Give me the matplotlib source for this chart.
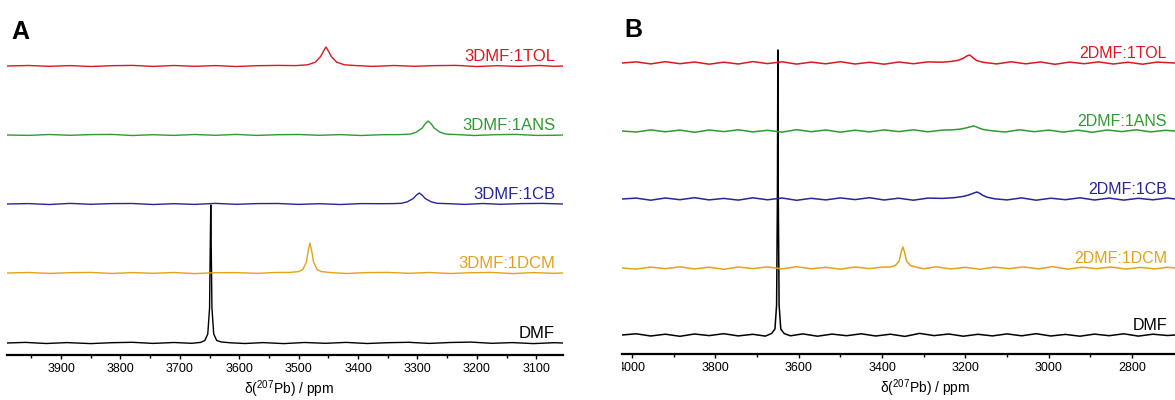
import matplotlib
matplotlib.use('Agg')
import matplotlib.pyplot as plt
import matplotlib.transforms as mtransforms

plt.rcParams['font.family'] = ['Liberation Sans', 'DejaVu Sans']
plt.rcParams['mathtext.fontset'] = 'custom'
plt.rcParams['mathtext.rm'] = 'Liberation Sans'

# ---- Panel A data (ppm, intensity) ----
a_labels = ['DMF', '3DMF:1DCM', '3DMF:1CB', '3DMF:1ANS', '3DMF:1TOL']

a_dmf_ppm = [3991, 3960, 3925, 3890, 3850, 3815, 3780, 3745, 3710, 3680,
             3665, 3658, 3653, 3650, 3649, 3648, 3647, 3646, 3643, 3638,
             3630, 3615, 3590, 3560, 3525, 3490, 3455, 3420, 3385, 3350,
             3315, 3280, 3245, 3210, 3175, 3140, 3105, 3070, 3055]
a_dmf_int = [0.0, 0.6, -0.5, 0.4, -0.6, 0.3, 0.7, -0.4, 0.5, -0.3,
             0.6, 2.5, 9, 35, 88, 138, 88, 35, 9, 2.5,
             1.0, 0.2, -0.5, 0.4, -0.6, 0.5, -0.3, 0.6, -0.5, 0.3,
             0.7, -0.4, 0.5, 0.9, -0.3, 0.4, -0.6, 0.3, 0.0]

a_dcm_ppm = [3991, 3955, 3920, 3885, 3850, 3815, 3780, 3745, 3710, 3675,
             3640, 3605, 3570, 3540, 3515, 3500, 3493, 3487, 3484, 3481,
             3478, 3475, 3469, 3462, 3445, 3420, 3385, 3350, 3315, 3280,
             3245, 3210, 3175, 3140, 3105, 3070, 3055]
a_dcm_int = [0.0, 0.5, -0.4, 0.3, 0.6, -0.5, 0.4, -0.3, 0.5, -0.6,
             0.3, 0.4, -0.4, 0.5, 0.6, 1.4, 3.5, 11, 22, 30,
             22, 11, 3.5, 1.4, 0.4, -0.5, 0.4, 0.6, -0.3, 0.5,
             -0.5, 0.3, 0.6, -0.6, 0.4, -0.3, 0.0]

a_cb_ppm = [3991, 3955, 3920, 3885, 3850, 3815, 3780, 3745, 3710, 3675,
            3640, 3605, 3570, 3535, 3500, 3465, 3430, 3395, 3360, 3340,
            3327, 3317, 3307, 3302, 3297, 3292, 3287, 3277, 3267, 3247,
            3220, 3190, 3160, 3125, 3090, 3055]
a_cb_int = [0.0, 0.4, -0.5, 0.6, -0.3, 0.4, 0.5, -0.5, 0.3, -0.4,
            0.6, -0.3, 0.4, 0.5, -0.4, 0.3, -0.5, 0.4, 0.3, 0.4,
            0.7, 2.2, 5.5, 8.8, 11, 8.8, 5.5, 2.2, 0.7, 0.3,
            -0.4, 0.5, -0.3, 0.4, 0.6, 0.0]

a_ans_ppm = [3991, 3955, 3920, 3885, 3850, 3815, 3780, 3745, 3710, 3675,
             3640, 3605, 3570, 3535, 3500, 3465, 3430, 3395, 3360, 3330,
             3312, 3302, 3292, 3287, 3282, 3277, 3272, 3262, 3252, 3232,
             3205, 3170, 3135, 3100, 3070, 3055]
a_ans_int = [0.0, -0.4, 0.5, -0.3, 0.4, 0.6, -0.5, 0.3, -0.4, 0.5,
             -0.3, 0.6, -0.4, 0.3, 0.5, -0.3, 0.4, -0.5, 0.3, 0.4,
             0.9, 2.8, 7, 11.2, 14, 11.2, 7, 2.8, 0.9, 0.4,
             -0.5, 0.3, 0.6, -0.4, -0.3, 0.0]

a_tol_ppm = [3991, 3955, 3920, 3885, 3850, 3815, 3780, 3745, 3710, 3675,
             3640, 3605, 3570, 3535, 3505, 3485, 3472, 3463, 3458, 3454,
             3450, 3445, 3436, 3423, 3403, 3375, 3340, 3305, 3270, 3235,
             3200, 3165, 3130, 3095, 3070, 3055]
a_tol_int = [0.0, 0.5, -0.3, 0.4, -0.5, 0.3, 0.6, -0.4, 0.5, -0.3,
             0.4, -0.5, 0.3, 0.6, 0.4, 1.2, 3.8, 9.5, 15, 19,
             15, 9.5, 3.8, 1.2, 0.4, -0.4, 0.5, -0.3, 0.4, 0.6,
             -0.5, 0.3, -0.4, 0.5, -0.3, 0.0]

# ---- Panel B data (ppm, intensity) ----
b_labels = ['DMF', '2DMF:1DCM', '2DMF:1CB', '2DMF:1ANS', '2DMF:1TOL']

b_dmf_ppm = [4024, 3990, 3955, 3920, 3885, 3850, 3815, 3780, 3745, 3710,
             3680, 3665, 3657, 3653, 3651, 3650, 3649, 3647, 3643, 3635,
             3620, 3590, 3555, 3520, 3485, 3450, 3415, 3380, 3345, 3310,
             3275, 3240, 3205, 3170, 3135, 3100, 3065, 3030, 2995, 2960,
             2925, 2890, 2855, 2820, 2785, 2750, 2715, 2697]
b_dmf_int = [0.0, 1.2, -1.0, 0.8, -1.3, 1.0, -0.6, 1.3, -0.9, 0.7,
             -1.1, 1.5, 6, 30, 140, 285, 140, 30, 6, 1.5,
             -0.8, 1.1, -1.2, 0.9, -0.7, 1.2, -1.0, 0.8, -1.4, 1.6,
             -0.6, 1.0, -1.2, 0.7, -0.9, 1.1, -0.8, 1.3, -1.0, 0.6,
             -1.2, 0.9, -0.7, 1.2, -1.1, 0.8, -0.5, 0.0]

b_dcm_ppm = [4024, 3990, 3955, 3920, 3885, 3850, 3815, 3780, 3745, 3710,
             3675, 3640, 3605, 3570, 3535, 3500, 3465, 3430, 3400, 3380,
             3368, 3359, 3354, 3350, 3346, 3341, 3332, 3320, 3300, 3270,
             3235, 3200, 3165, 3130, 3095, 3060, 3025, 2990, 2955, 2920,
             2885, 2850, 2815, 2780, 2745, 2715, 2697]
b_dcm_int = [0.0, -1.1, 0.9, -0.7, 1.2, -1.0, 0.8, -1.3, 1.0, -0.6,
             1.1, -0.9, 1.3, -0.8, 0.7, -1.2, 1.0, -0.6, 0.9, 1.0,
             2.5, 6.8, 16, 21, 16, 6.8, 2.5, 1.0, -0.8, 1.2,
             -1.0, 0.7, -1.3, 0.9, -0.6, 1.1, -0.9, 1.4, -1.2, 0.8,
             -0.7, 1.0, -1.1, 0.6, -0.9, 0.8, 0.0]

b_cb_ppm = [4024, 3990, 3955, 3920, 3885, 3850, 3815, 3780, 3745, 3710,
            3675, 3640, 3605, 3570, 3535, 3500, 3465, 3430, 3395, 3360,
            3325, 3290, 3255, 3225, 3205, 3192, 3182, 3176, 3172, 3166,
            3158, 3148, 3130, 3100, 3065, 3030, 2995, 2960, 2925, 2890,
            2855, 2820, 2785, 2750, 2715, 2697]
b_cb_int = [0.0, 0.9, -1.2, 1.0, -0.7, 1.3, -0.9, 0.6, -1.1, 1.2,
            -0.8, 1.0, -1.3, 0.7, -0.9, 1.1, -0.6, 1.3, -1.0, 0.8,
            -1.2, 0.9, 0.6, 1.4, 2.6, 4.0, 5.6, 6.5, 7.0, 5.8,
            3.6, 1.8, 0.2, -0.9, 1.1, -1.2, 0.8, -0.7, 1.2, -1.0,
            0.9, -1.1, 0.7, -0.8, 1.0, 0.0]

b_ans_ppm = [4024, 3990, 3955, 3920, 3885, 3850, 3815, 3780, 3745, 3710,
             3675, 3640, 3605, 3570, 3535, 3500, 3465, 3430, 3395, 3360,
             3325, 3290, 3255, 3230, 3212, 3200, 3190, 3184, 3180, 3174,
             3166, 3156, 3138, 3105, 3070, 3035, 3000, 2965, 2930, 2895,
             2860, 2825, 2790, 2755, 2720, 2697]
b_ans_int = [0.0, -1.0, 1.1, -0.8, 0.9, -1.3, 1.0, -0.6, 1.2, -0.9,
             0.7, -1.1, 1.3, -0.7, 1.0, -1.2, 0.8, -0.9, 1.1, -0.6,
             1.2, -0.8, 0.9, 1.2, 1.9, 2.9, 4.0, 4.6, 5.0, 4.2,
             2.7, 1.4, 0.3, -1.0, 1.2, -0.7, 0.9, -1.1, 0.8, -1.3,
             1.0, -0.6, 1.2, -0.9, 0.7, 0.0]

b_tol_ppm = [4024, 3990, 3955, 3920, 3885, 3850, 3815, 3780, 3745, 3710,
             3675, 3640, 3605, 3570, 3535, 3500, 3465, 3430, 3395, 3360,
             3325, 3290, 3255, 3235, 3218, 3206, 3198, 3193, 3190, 3186,
             3180, 3172, 3156, 3125, 3090, 3055, 3020, 2985, 2950, 2915,
             2880, 2845, 2810, 2775, 2740, 2697]
b_tol_int = [0.0, 1.1, -0.9, 1.3, -0.7, 1.0, -1.2, 0.8, -1.0, 1.4,
             -0.6, 1.2, -1.1, 0.9, -0.8, 1.3, -1.0, 0.7, -1.2, 1.0,
             -0.7, 1.1, 0.8, 1.5, 2.6, 4.5, 6.6, 7.6, 8.0, 6.8,
             4.6, 2.3, 0.6, -0.9, 1.2, -0.8, 1.0, -1.3, 0.9, -0.7,
             1.1, -1.0, 0.8, -1.2, 0.9, 0.0]

a_ticks = [3900, 3800, 3700, 3600, 3500, 3400, 3300, 3200, 3100]
b_ticks = [4000, 3800, 3600, 3400, 3200, 3000, 2800]

colors = ['black', '#e3a21a', '#26259a', '#2f9a2f', '#d9191f']

fig = plt.figure(figsize=(11.75, 4), dpi=100)
W, H = 1175.0, 400.0


def make_axes(x0, x1, y_axis, y_top):
    return fig.add_axes([x0 / W, 1 - y_axis / H, (x1 - x0) / W, (y_axis - y_top) / H])


axA = make_axes(7, 563, 355, 40)
axB = make_axes(622, 1175, 354, 40)

tracesA = [(a_dmf_ppm, a_dmf_int), (a_dcm_ppm, a_dcm_int), (a_cb_ppm, a_cb_int),
           (a_ans_ppm, a_ans_int), (a_tol_ppm, a_tol_int)]
tracesB = [(b_dmf_ppm, b_dmf_int), (b_dcm_ppm, b_dcm_int), (b_cb_ppm, b_cb_int),
           (b_ans_ppm, b_ans_int), (b_tol_ppm, b_tol_int)]
offsA = [12, 82, 151, 220, 289]
offsB = [19, 86, 155, 223, 291]

for ax, traces, offs, labels, lw, fs in [(axA, tracesA, offsA, a_labels, 1.0, 12),
                                         (axB, tracesB, offsB, b_labels, 1.1, 11.5)]:
    trans = mtransforms.blended_transform_factory(ax.transAxes, ax.transData)
    for (ppm, inten), off, lab, c in zip(traces, offs, labels, colors):
        ax.plot(ppm, [v + off for v in inten], color=c, lw=lw)
        ax.text(0.9856, off + 5, lab, color=c, fontsize=fs, ha='right', va='baseline',
                transform=trans)
    for s in ['top', 'left', 'right']:
        ax.spines[s].set_visible(False)
    ax.spines['bottom'].set_linewidth(1.6)
    ax.set_yticks([])
    ax.tick_params(axis='x', which='major', direction='out', length=3, width=1,
                   labelsize=9, pad=3)
    ax.tick_params(axis='x', which='minor', direction='out', length=2, width=1)
    ax.patch.set_visible(False)

axA.set_xlim(3991, 3055)
axA.set_ylim(0, 315)
axA.set_xticks(a_ticks)
axA.set_xticks([3950, 3850, 3750, 3650, 3550, 3450, 3350, 3250, 3150], minor=True)
axA.set_xlabel(r'δ($^{207}$Pb) / ppm', fontsize=10, labelpad=1)
axA.xaxis.set_label_coords(0.507, -0.075)

axB.set_xlim(4024, 2697)
axB.set_ylim(0, 314)
axB.set_xticks(b_ticks)
axB.set_xticks([3900, 3700, 3500, 3300, 3100, 2900], minor=True)
axB.set_xlabel(r'δ($^{207}$Pb) / ppm', fontsize=10, labelpad=1)
axB.xaxis.set_label_coords(0.548, -0.075)

# the source figure was cropped at the left edge of panel B
clip = mtransforms.TransformedBbox(mtransforms.Bbox([[0, -0.5], [1, 1]]), axB.transAxes)
for lbl in axB.get_xticklabels():
    lbl.set_clip_box(clip)
    lbl.set_clip_on(True)

fig.text(11 / W, 1 - 39 / H, 'A', fontsize=18, fontweight='bold', va='baseline')
fig.text(624 / W, 1 - 37 / H, 'B', fontsize=18, fontweight='bold', va='baseline')

fig.savefig('out.png', dpi=100)
